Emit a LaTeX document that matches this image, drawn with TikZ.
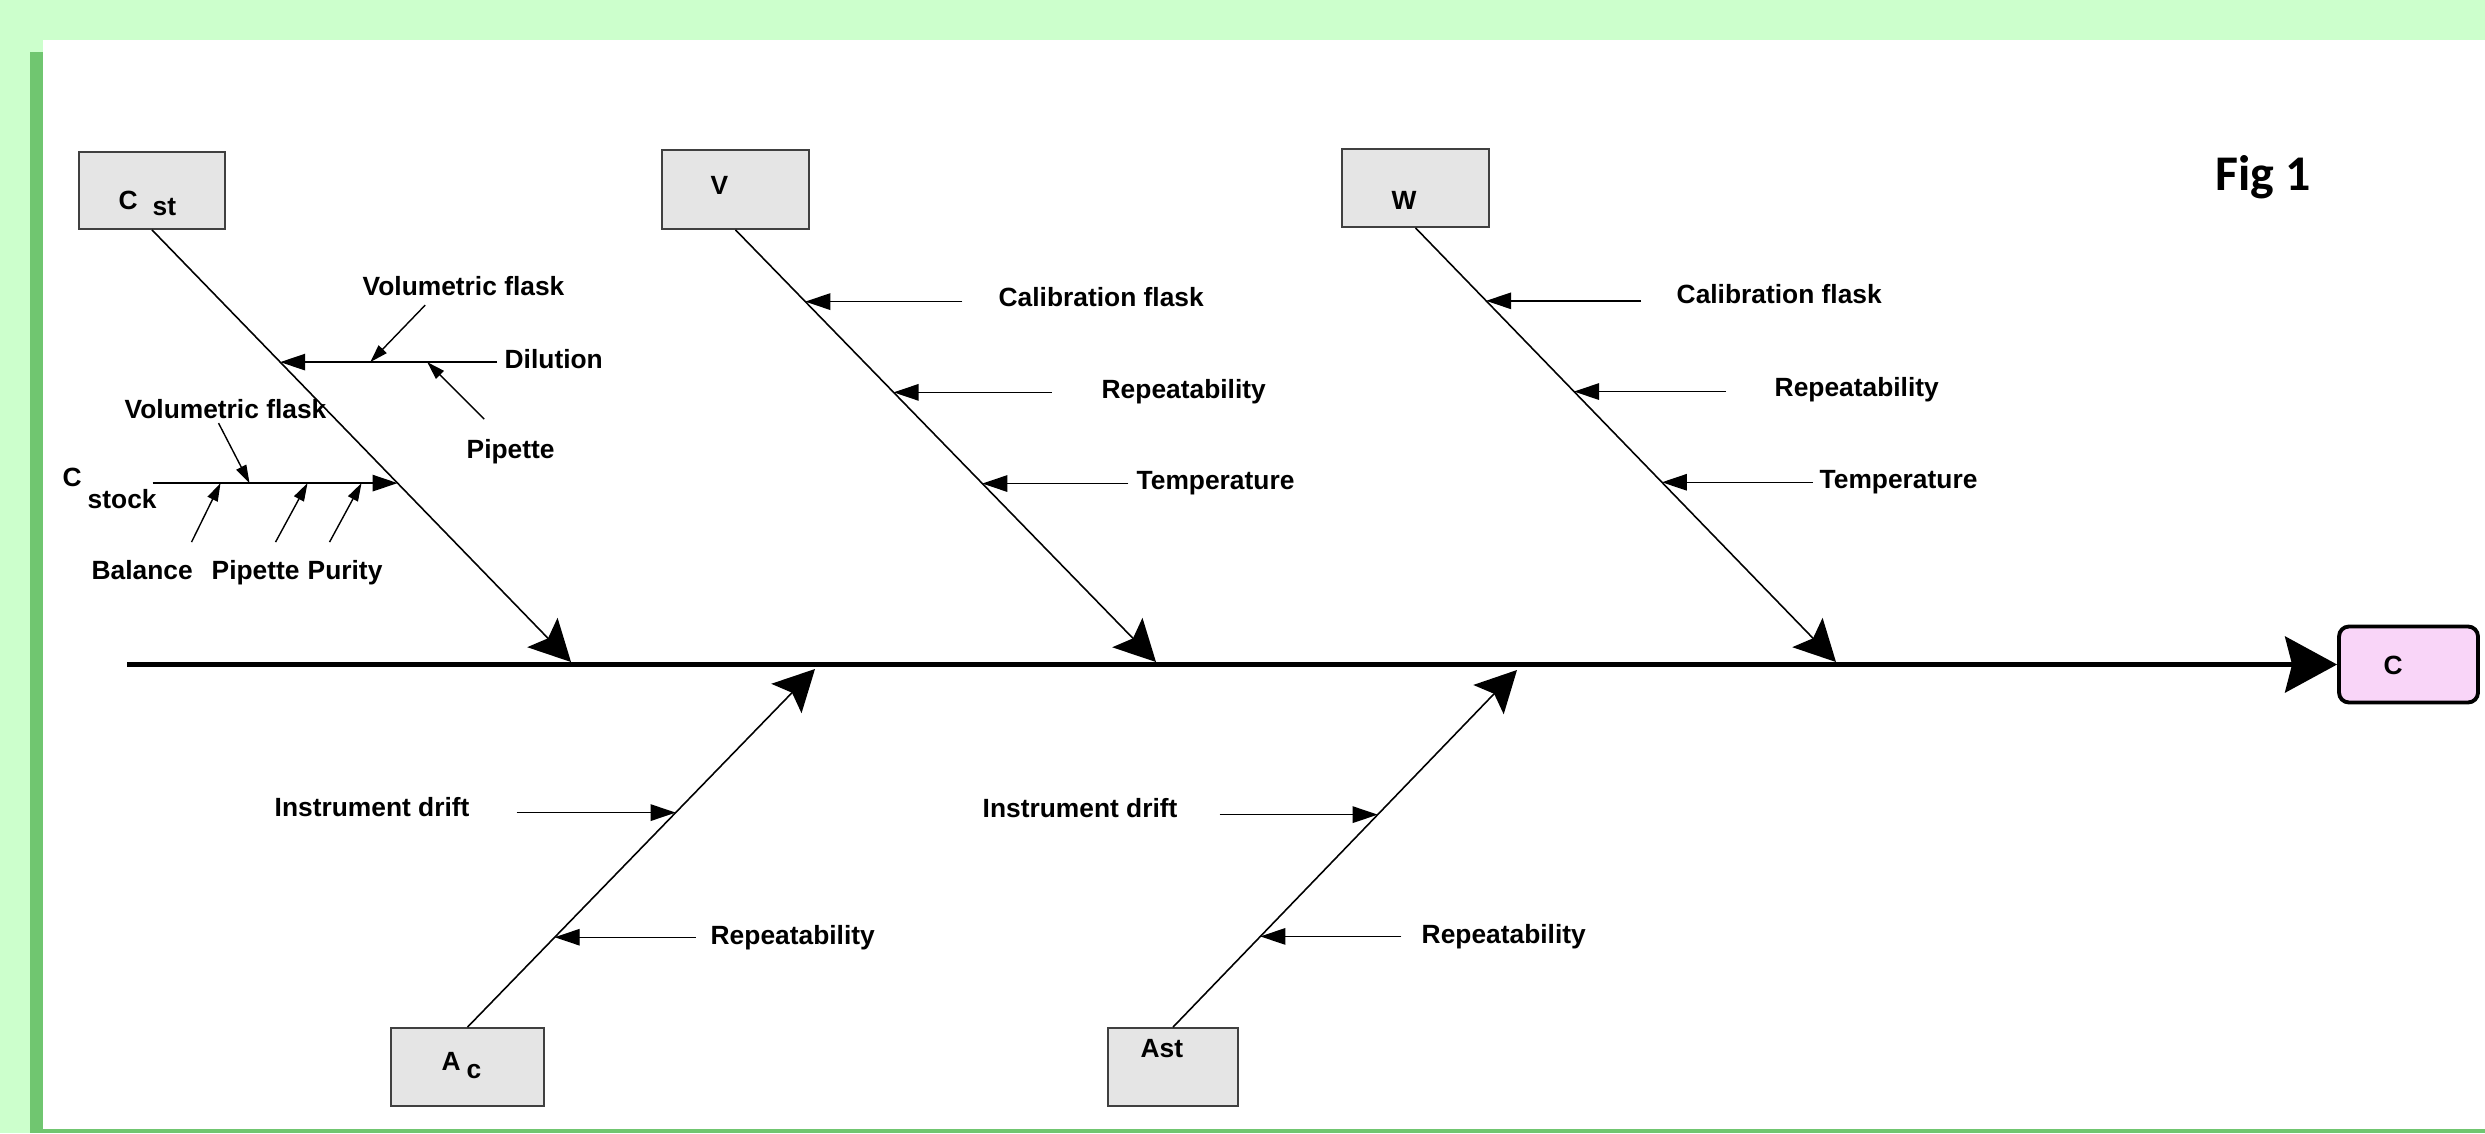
\documentclass[tikz,border=0pt]{standalone}
\usepackage{fontspec}
\setmainfont{Liberation Sans}
\newfontfamily\figfont{Carlito}
\usetikzlibrary{arrows.meta,calc}
\definecolor{bggreen}{HTML}{CCFFCC}
\definecolor{edgegreen}{HTML}{70C670}
\definecolor{cpink}{HTML}{F9D5F8}
\tikzset{
	cause/.style={draw=black!75, fill=black!10, line width=0.5pt, inner sep=0},
	effect/.style={draw=black, fill=cpink, line width=1.1pt, rounded corners=0.1cm, minimum width=1.39cm, minimum height=0.76cm},
	lbl/.style={font=\fontsize{7.5}{9}\selectfont\bfseries, inner sep=0, anchor=base west},
	spine/.style={line width=1.4pt, -{Stealth[length=0.52cm, width=0.56cm, inset=0.07cm]}},
	bone/.style={line width=0.45pt, -{Stealth[length=0.41cm, width=0.42cm, inset=0.08cm]}},
	rib/.style={line width=0.4pt, -{Triangle[length=0.25cm, width=0.165cm]}},
	twig/.style={line width=0.4pt, -{Triangle[length=0.18cm, width=0.11cm]}}
}
\begin{document}
\begin{tikzpicture}
		%%%%% START %%%%%
		\useasboundingbox (0, 0) rectangle (24.85, 11.33);
		\fill[bggreen] (0, 0) rectangle (24.85, 11.33);
		\fill[edgegreen] (0.30, 0) rectangle (0.43, 10.81);
		\fill[edgegreen] (0.30, 0) rectangle (24.85, 0.04);
		\fill[white] (0.43, 0.04) rectangle (24.85, 10.93);
		
		\node[lbl, font=\fontsize{14.2}{17}\selectfont\figfont\bfseries] (fig) at (22.15, 9.43) {Fig 1};
		
		% cause boxes
		\node[cause, minimum width=1.46cm, minimum height=0.77cm] (Cst) at (1.52, 9.425) {};
		\node[cause, minimum width=1.47cm, minimum height=0.79cm] (V) at (7.355, 9.435) {};
		\node[cause, minimum width=1.47cm, minimum height=0.78cm] (W) at (14.155, 9.45) {};
		\node[cause, minimum width=1.53cm, minimum height=0.78cm] (Ac) at (4.675, 0.66) {};
		\node[cause, minimum width=1.30cm, minimum height=0.78cm] (Ast) at (11.73, 0.66) {};
		\node[effect] (C) at (24.085, 4.685) {};
		
		\node[lbl] (Csttxt) at (1.18, 9.24) {C\hspace{0.15cm}\raisebox{-0.06cm}{st}};
		\node[lbl] (Vtxt) at (7.10, 9.39) {V};
		\node[lbl] (Wtxt) at (13.91, 9.24) {W};
		\node[lbl] (Actxt) at (4.41, 0.63) {A\hspace{0.06cm}\raisebox{-0.08cm}{c}};
		\node[lbl] (Asttxt) at (11.40, 0.76) {Ast};
		\node[lbl] (Ctxt) at (23.83, 4.59) {C};
		
		% spine and bones
		\coordinate (tail) at (1.27, 4.685);
		\draw[spine] (tail) -- (C.west);
		
		\coordinate (k1) at (5.71, 4.71);
		\coordinate (k2) at (11.56, 4.71);
		\coordinate (k3) at (18.36, 4.71);
		\coordinate (k4) at (8.15, 4.64);
		\coordinate (k5) at (15.17, 4.63);
		
		\draw[bone] (Cst.south) -- (k1);
		\draw[bone] (V.south) -- (k2);
		\draw[bone] (W.south) -- (k3);
		\draw[bone] (Ac.north) -- (k4);
		\draw[bone] (Ast.north) -- (k5);
		
		% C st
		\coordinate (c1) at ($(Cst.south)!0.306!(k1)$);
		\coordinate (c2) at ($(Cst.south)!0.586!(k1)$);
		\draw[rib] ([xshift=2.17cm]c1) -- (c1);
		\draw[rib] ([xshift=-2.45cm]c2) -- (c2);
		
		\coordinate (d1) at ([xshift=0.90cm]c1);
		\coordinate (d2) at ([xshift=1.47cm]c1);
		\draw[twig] ([shift={(0.55, 0.57)}]d1) -- (d1);
		\draw[twig] ([shift={(0.57, -0.57)}]d2) -- (d2);
		
		\coordinate (s1) at ([xshift=-1.48cm]c2);
		\coordinate (s2) at ([xshift=-1.77cm]c2);
		\coordinate (s3) at ([xshift=-0.90cm]c2);
		\coordinate (s4) at ([xshift=-0.36cm]c2);
		\draw[twig] ([shift={(-0.31, 0.60)}]s1) -- (s1);
		\draw[twig] ([shift={(-0.29, -0.59)}]s2) -- (s2);
		\draw[twig] ([shift={(-0.32, -0.59)}]s3) -- (s3);
		\draw[twig] ([shift={(-0.32, -0.59)}]s4) -- (s4);
		
		\node[lbl] (dil) at (5.04, 7.65) {Dilution};
		\node[lbl] (dilflask) at (3.62, 8.38) {Volumetric flask};
		\node[lbl] (dilpip) at (4.66, 6.75) {Pipette};
		\node[lbl] (stock) at (0.62, 6.47) {C\hspace{0.06cm}\raisebox{-0.22cm}{stock}};
		\node[lbl] (stkflask) at (1.24, 7.15) {Volumetric flask};
		\node[lbl] (bal) at (0.91, 5.54) {Balance};
		\node[lbl] (stkpip) at (2.11, 5.54) {Pipette};
		\node[lbl] (pur) at (3.07, 5.54) {Purity};
		
		% V
		\coordinate (v1) at ($(V.south)!0.166!(k2)$);
		\coordinate (v2) at ($(V.south)!0.376!(k2)$);
		\coordinate (v3) at ($(V.south)!0.587!(k2)$);
		\draw[rib] ([xshift=1.57cm]v1) -- (v1);
		\draw[rib] ([xshift=1.58cm]v2) -- (v2);
		\draw[rib] ([xshift=1.46cm]v3) -- (v3);
		\node[lbl] (vcal) at (9.98, 8.27) {Calibration flask};
		\node[lbl] (vrep) at (11.01, 7.35) {Repeatability};
		\node[lbl] (vtmp) at (11.36, 6.44) {Temperature};
		
		% W
		\coordinate (w1) at ($(W.south)!0.168!(k3)$);
		\coordinate (w2) at ($(W.south)!0.377!(k3)$);
		\coordinate (w3) at ($(W.south)!0.586!(k3)$);
		\draw[rib] ([xshift=1.55cm]w1) -- (w1);
		\draw[rib] ([xshift=1.52cm]w2) -- (w2);
		\draw[rib] ([xshift=1.51cm]w3) -- (w3);
		\node[lbl] (wcal) at (16.76, 8.30) {Calibration flask};
		\node[lbl] (wrep) at (17.74, 7.37) {Repeatability};
		\node[lbl] (wtmp) at (18.19, 6.45) {Temperature};
		
		% A c
		\coordinate (a1) at ($(Ac.north)!0.599!(k4)$);
		\coordinate (a2) at ($(Ac.north)!0.251!(k4)$);
		\draw[rib] ([xshift=-1.59cm]a1) -- (a1);
		\draw[rib] ([xshift=1.41cm]a2) -- (a2);
		\node[lbl] (adrift) at (2.74, 3.17) {Instrument drift};
		\node[lbl] (arep) at (7.10, 1.89) {Repeatability};
		
		% Ast
		\coordinate (b1) at ($(Ast.north)!0.595!(k5)$);
		\coordinate (b2) at ($(Ast.north)!0.254!(k5)$);
		\draw[rib] ([xshift=-1.58cm]b1) -- (b1);
		\draw[rib] ([xshift=1.41cm]b2) -- (b2);
		\node[lbl] (bdrift) at (9.82, 3.16) {Instrument drift};
		\node[lbl] (brep) at (14.21, 1.90) {Repeatability};
		
		%%%%% END %%%%%
\end{tikzpicture}
\end{document}
